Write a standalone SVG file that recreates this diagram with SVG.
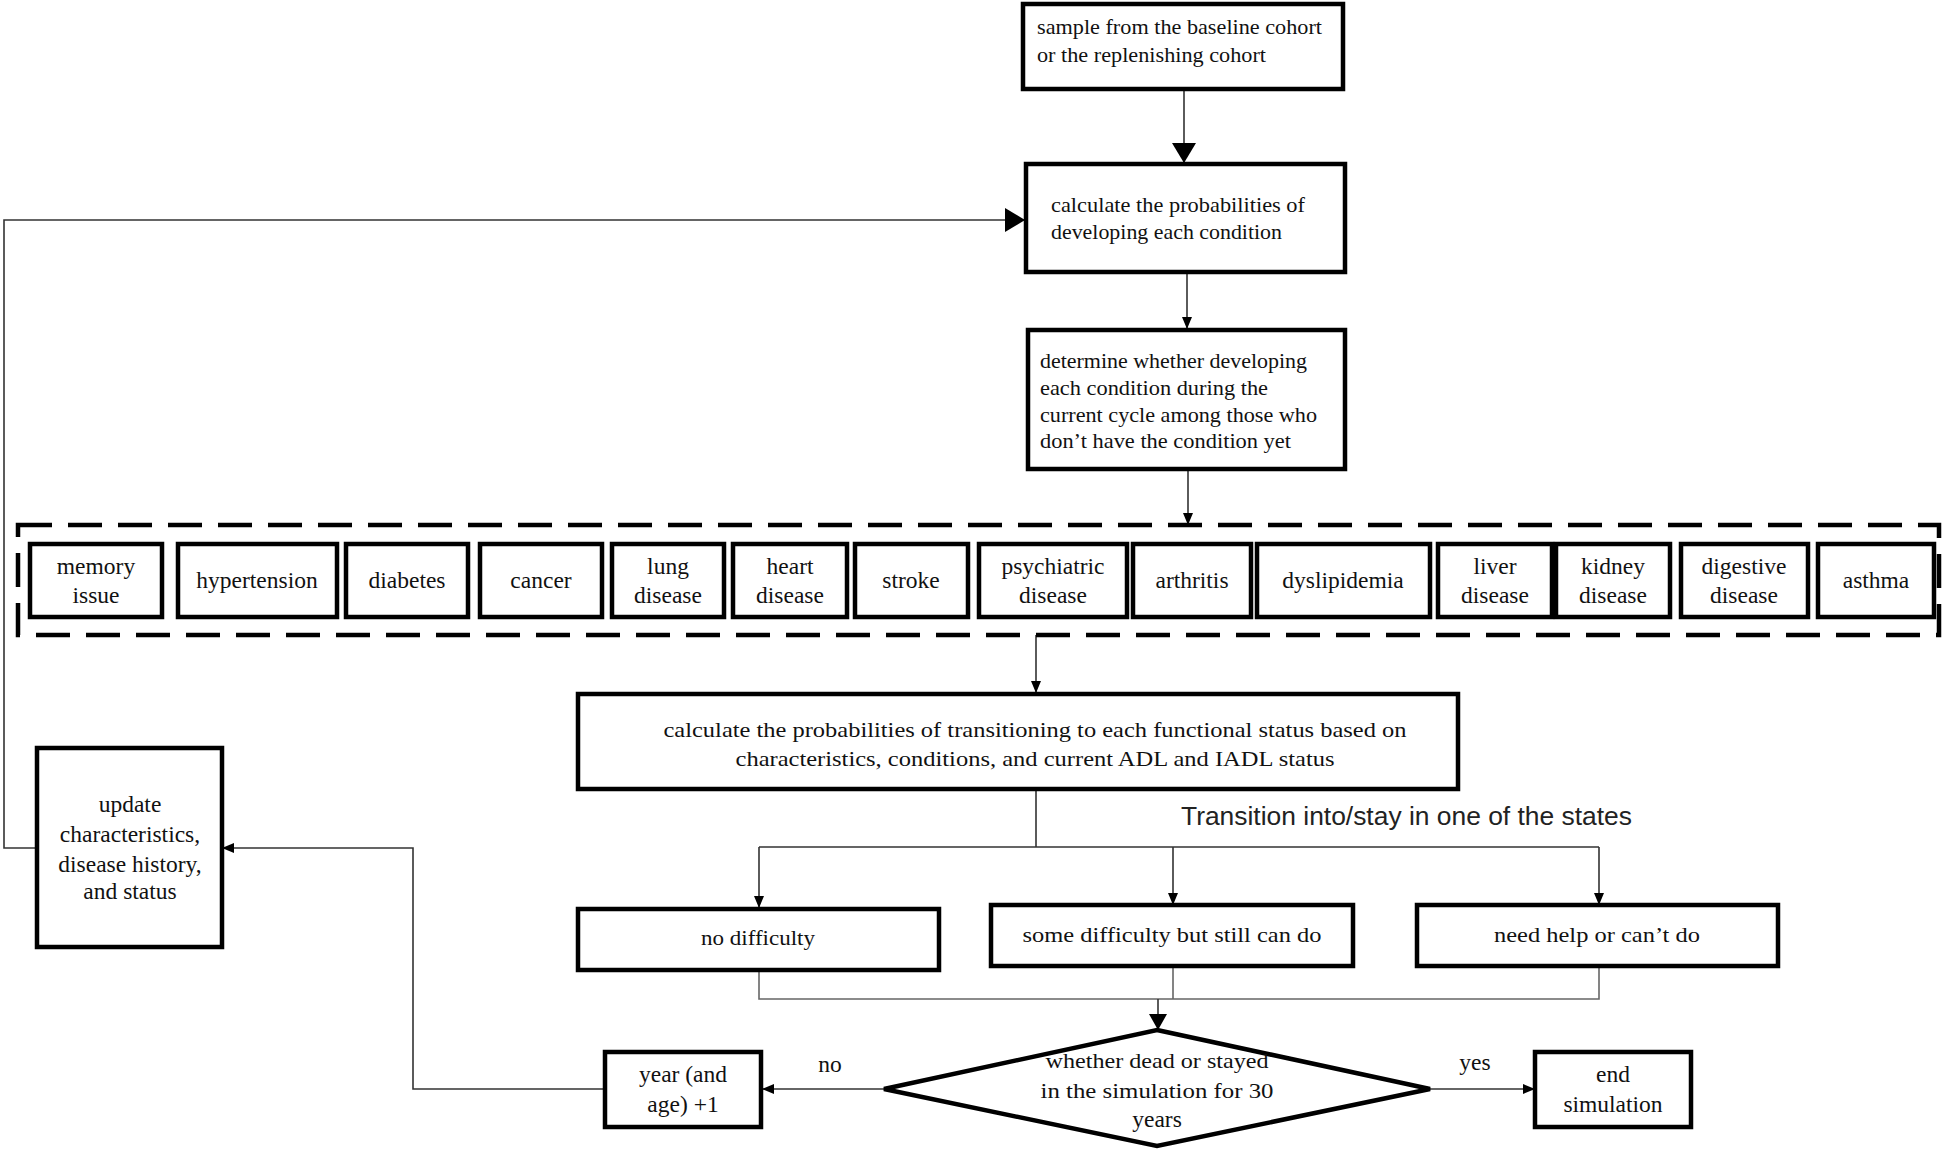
<svg xmlns="http://www.w3.org/2000/svg" width="1944" height="1151" viewBox="0 0 1944 1151">
<style>
.box{fill:#fff;stroke:#000;stroke-width:4.5}
.t{font-family:"Liberation Serif","Times New Roman",serif;font-size:22px;fill:#111}
.c{text-anchor:middle}
.d{font-size:23.5px}
.u{font-size:23.5px}
.ln{fill:none;stroke:#333;stroke-width:1.6}
.lg{fill:none;stroke:#666;stroke-width:1.6}
</style>
<defs>
<marker id="sa" markerUnits="userSpaceOnUse" markerWidth="12" markerHeight="12" viewBox="0 0 12 12" refX="12" refY="6" orient="auto"><path d="M0,1 L12,6 L0,11 z" fill="#000"/></marker>
<marker id="ma" markerUnits="userSpaceOnUse" markerWidth="16" markerHeight="18" viewBox="0 0 16 18" refX="16" refY="9" orient="auto"><path d="M0,0 L16,9 L0,18 z" fill="#000"/></marker>
<marker id="ba" markerUnits="userSpaceOnUse" markerWidth="20" markerHeight="24" viewBox="0 0 20 24" refX="20" refY="12" orient="auto"><path d="M0,0 L20,12 L0,24 z" fill="#000"/></marker>
</defs>
<rect width="1944" height="1151" fill="#fff"/>

<g id="connectors">
<path class="ln" d="M1184,89 V163" marker-end="url(#ba)"/>
<path class="ln" d="M1187,272 V329" marker-end="url(#sa)"/>
<path class="ln" d="M1188,470 V525" marker-end="url(#sa)"/>
<path class="ln" d="M1036,635 V693" marker-end="url(#sa)"/>
<path class="ln" d="M1036,789 V847 M759,847 H1599"/>
<path class="ln" d="M759,847 V908" marker-end="url(#sa)"/>
<path class="ln" d="M1173,847 V905" marker-end="url(#sa)"/>
<path class="ln" d="M1599,847 V905" marker-end="url(#sa)"/>
<path class="lg" d="M759,971 V999 H1599 V966 M1173,966 V999"/>
<path class="ln" d="M1158,999 V1030" marker-end="url(#ma)"/>
<path class="ln" d="M884,1089 H762" marker-end="url(#sa)"/>
<path class="ln" d="M1430,1089 H1535" marker-end="url(#sa)"/>
<path class="ln" d="M604,1089 H413 V848 H222" marker-end="url(#sa)"/>
<path class="ln" d="M37,848 H4 V220 H1025" marker-end="url(#ba)"/>
</g>

<g id="sample">
<rect class="box" x="1023" y="4" width="320" height="85"/>
<text class="t" x="1037" y="34" textLength="285" lengthAdjust="spacingAndGlyphs">sample from the baseline cohort</text>
<text class="t" x="1037" y="62" textLength="229" lengthAdjust="spacingAndGlyphs">or the replenishing cohort</text>
</g>

<g id="calc-prob">
<rect class="box" x="1026" y="164" width="319" height="108"/>
<text class="t" x="1051" y="212" textLength="254" lengthAdjust="spacingAndGlyphs">calculate the probabilities of</text>
<text class="t" x="1051" y="239" textLength="231" lengthAdjust="spacingAndGlyphs">developing each condition</text>
</g>

<g id="determine">
<rect class="box" x="1028" y="330" width="317" height="139"/>
<text class="t" x="1040" y="368" textLength="267" lengthAdjust="spacingAndGlyphs">determine whether developing</text>
<text class="t" x="1040" y="395" textLength="228" lengthAdjust="spacingAndGlyphs">each condition during the</text>
<text class="t" x="1040" y="422" textLength="277" lengthAdjust="spacingAndGlyphs">current cycle among those who</text>
<text class="t" x="1040" y="448" textLength="251" lengthAdjust="spacingAndGlyphs">don’t have the condition yet</text>
</g>

<g id="conditions-group">
<rect x="18" y="525" width="1921" height="110" fill="none" stroke="#000" stroke-width="4.5" stroke-dasharray="34,16"/>
</g>

<g id="memory"><rect class="box" x="30" y="544" width="132" height="73"/><text class="t d c" x="96" y="574">memory</text><text class="t d c" x="96" y="603">issue</text></g>
<g id="hypertension"><rect class="box" x="178" y="544" width="159" height="73"/><text class="t d c" x="257" y="588">hypertension</text></g>
<g id="diabetes"><rect class="box" x="346" y="544" width="122" height="73"/><text class="t d c" x="407" y="588">diabetes</text></g>
<g id="cancer"><rect class="box" x="480" y="544" width="122" height="73"/><text class="t d c" x="541" y="588">cancer</text></g>
<g id="lung"><rect class="box" x="612" y="544" width="112" height="73"/><text class="t d c" x="668" y="574">lung</text><text class="t d c" x="668" y="603">disease</text></g>
<g id="heart"><rect class="box" x="733" y="544" width="114" height="73"/><text class="t d c" x="790" y="574">heart</text><text class="t d c" x="790" y="603">disease</text></g>
<g id="stroke"><rect class="box" x="855" y="544" width="113" height="73"/><text class="t d c" x="911" y="588">stroke</text></g>
<g id="psychiatric"><rect class="box" x="979" y="544" width="148" height="73"/><text class="t d c" x="1053" y="574">psychiatric</text><text class="t d c" x="1053" y="603">disease</text></g>
<g id="arthritis"><rect class="box" x="1133" y="544" width="118" height="73"/><text class="t d c" x="1192" y="588">arthritis</text></g>
<g id="dyslipidemia"><rect class="box" x="1257" y="544" width="173" height="73"/><text class="t d c" x="1343" y="588">dyslipidemia</text></g>
<g id="liver"><rect class="box" x="1438" y="544" width="114" height="73"/><text class="t d c" x="1495" y="574">liver</text><text class="t d c" x="1495" y="603">disease</text></g>
<g id="kidney"><rect class="box" x="1556" y="544" width="114" height="73"/><text class="t d c" x="1613" y="574">kidney</text><text class="t d c" x="1613" y="603">disease</text></g>
<g id="digestive"><rect class="box" x="1681" y="544" width="127" height="73"/><text class="t d c" x="1744" y="574">digestive</text><text class="t d c" x="1744" y="603">disease</text></g>
<g id="asthma"><rect class="box" x="1818" y="544" width="116" height="73"/><text class="t d c" x="1876" y="588">asthma</text></g>

<g id="calc-transition">
<rect class="box" x="578" y="694" width="880" height="95"/>
<text class="t c" x="1035" y="737" textLength="743" lengthAdjust="spacingAndGlyphs">calculate the probabilities of transitioning to each functional status based on</text>
<text class="t c" x="1035" y="766" textLength="599" lengthAdjust="spacingAndGlyphs">characteristics, conditions, and current ADL and IADL status</text>
</g>

<text id="transition-label" x="1181" y="825" font-family="'Liberation Sans','Noto Sans',sans-serif" font-size="26" fill="#222" textLength="451" lengthAdjust="spacingAndGlyphs">Transition into/stay in one of the states</text>

<g id="no-difficulty">
<rect class="box" x="578" y="909" width="361" height="61"/>
<text class="t c" x="758" y="945" textLength="114" lengthAdjust="spacingAndGlyphs">no difficulty</text>
</g>
<g id="some-difficulty">
<rect class="box" x="991" y="905" width="362" height="61"/>
<text class="t c" x="1172" y="942" textLength="299" lengthAdjust="spacingAndGlyphs">some difficulty but still can do</text>
</g>
<g id="need-help">
<rect class="box" x="1417" y="905" width="361" height="61"/>
<text class="t c" x="1597" y="942" textLength="206" lengthAdjust="spacingAndGlyphs">need help or can’t do</text>
</g>

<g id="update">
<rect class="box" x="37" y="748" width="185" height="199"/>
<text class="t u c" x="130" y="812">update</text>
<text class="t u c" x="130" y="842">characteristics,</text>
<text class="t u c" x="130" y="872">disease history,</text>
<text class="t u c" x="130" y="899">and status</text>
</g>

<g id="decision">
<polygon points="1157,1030 1430,1089 1157,1146 884,1089" fill="#fff" stroke="#000" stroke-width="4.5"/>
<text class="t c" x="1157" y="1068" textLength="223" lengthAdjust="spacingAndGlyphs">whether dead or stayed</text>
<text class="t c" x="1157" y="1098" textLength="233" lengthAdjust="spacingAndGlyphs">in the simulation for 30</text>
<text class="t u c" x="1157" y="1127">years</text>
</g>

<g id="year">
<rect class="box" x="605" y="1052" width="156" height="75"/>
<text class="t u c" x="683" y="1082">year (and</text>
<text class="t u c" x="683" y="1112">age) +1</text>
</g>

<g id="end">
<rect class="box" x="1535" y="1052" width="156" height="75"/>
<text class="t u c" x="1613" y="1082">end</text>
<text class="t u c" x="1613" y="1112">simulation</text>
</g>

<text class="t u c" x="830" y="1072">no</text>
<text class="t u c" x="1475" y="1070">yes</text>
</svg>
